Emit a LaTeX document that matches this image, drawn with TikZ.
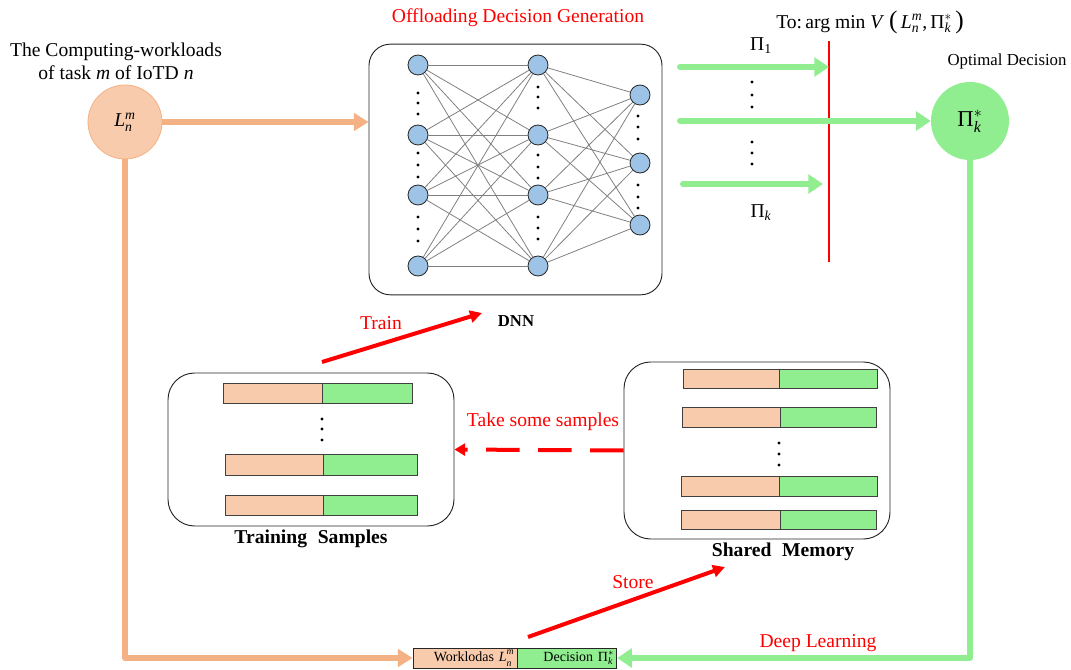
\documentclass[tikz,border=0pt]{standalone}
\usepackage{amsmath}
\usepackage{fontspec}
\setmainfont{Liberation Serif}
\usetikzlibrary{arrows.meta}
\definecolor{peach}{HTML}{F8CBAD}
\definecolor{peachline}{HTML}{F4B183}
\definecolor{mint}{HTML}{90EE90}
\definecolor{neuronfill}{HTML}{9DC3E6}
\definecolor{alertred}{HTML}{FF0000}
% symbols set in the serif text font, with math-style scripts
\newcommand{\Lnm}{$\text{\itshape L}^{\text{\itshape m}}_{\text{\itshape n}}$}
\newcommand{\Pks}{$\text{Π}^{*}_{\text{\itshape k}}$}
% compact variant for the small record labels, scripts spread apart a little
\newcommand{\Lnmsmall}{$\text{\itshape L}^{\text{\raisebox{0.8pt}{\itshape m}}}_{\text{\raisebox{-0.8pt}{\itshape n}}}$}
% one memory record: x-left, x-split, x-right, y-top, y-bottom
\newcommand{\membar}[5]{%
  \filldraw[fill=peach,draw=black!75,line width=0.6pt] (#1,#4) rectangle (#2,#5);
  \filldraw[fill=mint,draw=black!75,line width=0.6pt] (#2,#4) rectangle (#3,#5);}
\newcommand{\vdotsat}[4]{%
  \foreach \yy in {#2,#3,#4} \fill (#1,\yy) circle (1.6);}
\begin{document}
\begin{tikzpicture}[x=0.75pt,y=-0.75pt,
  txt/.style={inner sep=0pt,font=\fontsize{14.7}{17.5}\selectfont},
  small/.style={inner sep=0pt,font=\fontsize{12.6}{15}\selectfont},
  lbl/.style={txt,text=alertred},
  bold/.style={inner sep=0pt,font=\fontsize{14.7}{17.5}\selectfont\bfseries},
  neu/.style={circle,draw=black!85,fill=neuronfill,line width=0.6pt,minimum size=15pt,inner sep=0pt},
  syn/.style={draw=black!50,line width=0.6pt},
  panel/.style={draw=black!85,line width=0.7pt,inner sep=0pt},
  record/.style={draw=black!85,line width=0.6pt,minimum height=15pt,inner ysep=0pt,inner xsep=2pt,
      align=right,font=\fontsize{10.5}{12}\selectfont},
  orangeflow/.style={draw=peachline,line width=4.5pt,-{Triangle[length=11pt,width=13pt]}},
  greenflow/.style={draw=mint,line width=4.5pt,-{Triangle[length=11pt,width=14pt]}},
  redflow/.style={draw=alertred,line width=3pt,-{Triangle[length=9pt,width=9pt]}}
]
\useasboundingbox (0,0) rectangle (1071,670);

% ---------- input ----------
\node[txt,align=center] (intitle) at (116,61) {The Computing-workloads\\of task \textit{m} of IoTD \textit{n}};
\node[circle,fill=peach,draw=peachline,line width=0.6pt,minimum size=55.5pt,inner sep=0pt,txt] (L) at (125,122) {\Lnm};

% ---------- DNN ----------
\node[lbl] (gen) at (518,18) {Offloading Decision Generation};
\node[panel,rounded corners=16pt,minimum width=219.75pt,minimum height=188pt] (dnn) at (515.5,169.5) {};
\node[bold,font=\fontsize{12.5}{15}\selectfont\bfseries] (dnnlbl) at (516,321) {DNN};

\foreach \i/\y in {1/65,2/135,3/195,4/266} \node[neu] (a\i) at (418,\y) {};
\foreach \i/\y in {1/65,2/135,3/195,4/266} \node[neu] (b\i) at (538,\y) {};
\foreach \i/\y in {1/95,2/163,3/225} \node[neu] (c\i) at (640,\y) {};
\foreach \i in {1,...,4} \foreach \j in {1,...,4} \draw[syn] (a\i) -- (b\j);
\foreach \i in {1,...,4} \foreach \j in {1,...,3} \draw[syn] (b\i) -- (c\j);
\vdotsat{418}{93}{103}{114}
\vdotsat{418}{153}{165}{177}
\vdotsat{418}{217}{229}{241}
\vdotsat{538}{87}{97}{108}
\vdotsat{538}{155}{167}{178}
\vdotsat{538}{217}{228}{239}
\vdotsat{638}{116}{127}{139}
\vdotsat{638}{185}{197}{208}

\draw[orangeflow] (L.east) -- (L.east -| dnn.west);

% ---------- candidate decisions ----------
\node[txt] (argmin) at (870,22) {To:\,arg min \textit{V} {\fontsize{19}{19}\selectfont(}\,\Lnm,\,\Pks\,{\fontsize{19}{19}\selectfont)}};
\coordinate (cuttop) at (829,41);
\coordinate (cutbot) at (829,262);
\draw[alertred,line width=1.6pt] (cuttop) -- (cutbot);

\node[small] (optlbl) at (1007,61) {Optimal Decision};
\node[circle,fill=mint,minimum size=58.5pt,inner sep=0pt,font=\fontsize{17}{20}\selectfont] (pk) at (970,121) {\Pks};

\coordinate (g1) at (680,67);
\coordinate (g2) at (680,121);
\coordinate (g3) at (683,184);
\draw[greenflow,line cap=round] (g1) -- (g1 -| cuttop);
\draw[greenflow,line cap=round] (g2) -- (pk.west);
\draw[greenflow,line cap=round] (g3) -- ([xshift=-4.5pt]g3 -| cuttop);
\node[txt] (pi1) at (761,46) {$\text{Π}_{\text{1}}$};
\node[txt] (pik) at (761,213) {$\text{Π}_{\text{\itshape k}}$};
\vdotsat{752}{82}{95}{107}
\vdotsat{752}{142}{153}{164}

% ---------- training samples ----------
\node[panel,rounded corners=20pt,minimum width=214.5pt,minimum height=114.75pt] (ts) at (311,449.5) {};
\membar{223}{322}{412}{383}{403}
\membar{225}{323}{417}{454}{475}
\membar{225}{323}{417}{495}{515}
\vdotsat{322}{419}{429}{440}
\node[bold] (tslbl) at (311,539) {Training\hspace{0.55em}Samples};

% ---------- shared memory ----------
\node[panel,rounded corners=20pt,minimum width=199.5pt,minimum height=132.75pt] (sm) at (757,450.5) {};
\membar{683}{779}{877}{369}{388}
\membar{682}{780}{876}{407}{427}
\membar{681}{779}{877}{476}{496}
\membar{681}{780}{876}{510}{529}
\vdotsat{779}{443}{454}{465}
\node[bold] (smlbl) at (783,552) {Shared\hspace{0.55em}Memory};

\draw[alertred,line width=3pt,dash pattern=on 25pt off 14pt,-{Triangle[length=8pt,width=9pt]}] (sm.west) -- (ts.east);
\node[lbl] (takelbl) at (543,422) {Take some samples};

% ---------- training step ----------
\coordinate (trs) at (322,362);
\coordinate (tre) at (482,313);
\draw[redflow] (trs) -- (tre);
\node[lbl] (trainlbl) at (381,323) {Train};

% ---------- new record ----------
\node[record,fill=peach,text width=74pt] (wl) at (465,658) {Worklodas \Lnmsmall};
\node[record,fill=mint,text width=70.25pt,anchor=west] (dec) at (wl.east) {Decision \Pks};

\draw[orangeflow,line join=round] (L.south) |- (wl.west);
\draw[greenflow,line join=round] (pk.south) |- (dec.east);
\node[lbl] (dllbl) at (818,643) {Deep Learning};

\coordinate (sts) at (528,637);
\coordinate (ste) at (725,567);
\draw[redflow] (sts) -- (ste);
\node[lbl] (storelbl) at (633,582) {Store};
\end{tikzpicture}
\end{document}
